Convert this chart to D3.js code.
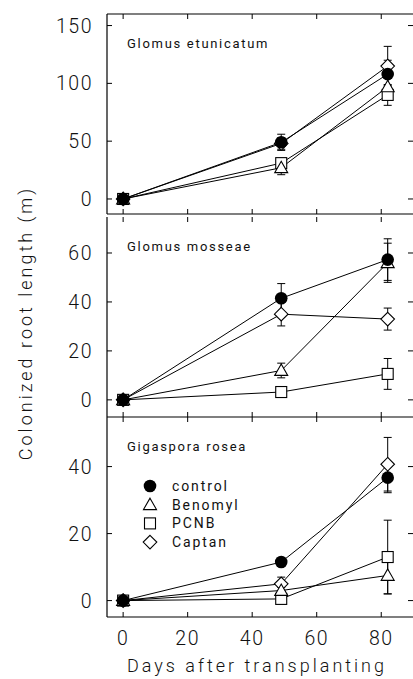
<!DOCTYPE html>
<html>
<head>
<meta charset="utf-8">
<script src="https://cdn.jsdelivr.net/npm/d3@7"></script>
<style>
  body { margin: 0; background: #fff; }
  svg { display: block; font-family: Roboto, "DejaVu Sans", sans-serif; }
  .tick-label { font-size: 19.5px; font-weight: 300; fill: #111; letter-spacing: 1.5px; }
  .panel-title { font-size: 13px; fill: #111; letter-spacing: 1.7px; }
  .legend-label { font-size: 14px; fill: #111; letter-spacing: 1.9px; }
  .axis-title { font-size: 18px; font-weight: 300; fill: #111; letter-spacing: 3px; }
</style>
</head>
<body>
<svg id="chart" width="413" height="679"></svg>
<script>
// Colonized root length after fungicide treatment -- three fungi

var days = [0, 49, 82];
var treatments = ["control", "Benomyl", "PCNB", "Captan"];
var dayTicks = [0, 20, 40, 60, 80];

// Glomus etunicatum
var etunicatumControl = [0, 49, 108];
var etunicatumBenomyl = [0, 27, 97];
var etunicatumPCNB = [0, 31, 90];
var etunicatumCaptan = [0, 48, 115];
var etunicatumControlErr = [0, 7, 12];
var etunicatumBenomylErr = [0, 6, 8];
var etunicatumPCNBErr = [0, 4, 9];
var etunicatumCaptanErr = [0, 5, 17];
var etunicatumTicks = [0, 50, 100, 150];

// Glomus mosseae
var mosseaeControl = [0, 41.5, 57.3];
var mosseaeBenomyl = [0, 12, 56];
var mosseaePCNB = [0, 3.2, 10.6];
var mosseaeCaptan = [0, 35, 33];
var mosseaeControlErr = [0, 6, 8.5];
var mosseaeBenomylErr = [0, 3, 8];
var mosseaePCNBErr = [0, 0.8, 6.3];
var mosseaeCaptanErr = [0, 4.8, 4.5];
var mosseaeTicks = [0, 20, 40, 60];

// Gigaspora rosea
var roseaControl = [0, 11.5, 36.7];
var roseaBenomyl = [0, 3, 7.5];
var roseaPCNB = [0, 0.5, 13];
var roseaCaptan = [0, 5, 40.7];
var roseaControlErr = [0, 1, 4.5];
var roseaBenomylErr = [0, 1, 5.5];
var roseaPCNBErr = [0, 1, 11];
var roseaCaptanErr = [0, 2, 8];
var roseaTicks = [0, 20, 40];

var panels = [
  { title: "Glomus etunicatum", domain: [-13, 160], ticks: etunicatumTicks,
    values: [etunicatumControl, etunicatumBenomyl, etunicatumPCNB, etunicatumCaptan],
    errors: [etunicatumControlErr, etunicatumBenomylErr, etunicatumPCNBErr, etunicatumCaptanErr] },
  { title: "Glomus mosseae", domain: [-7, 74.7], ticks: mosseaeTicks,
    values: [mosseaeControl, mosseaeBenomyl, mosseaePCNB, mosseaeCaptan],
    errors: [mosseaeControlErr, mosseaeBenomylErr, mosseaePCNBErr, mosseaeCaptanErr] },
  { title: "Gigaspora rosea", domain: [-4.9, 54.8], ticks: roseaTicks,
    values: [roseaControl, roseaBenomyl, roseaPCNB, roseaCaptan],
    errors: [roseaControlErr, roseaBenomylErr, roseaPCNBErr, roseaCaptanErr] }
];

var svg = d3.select("#chart");
var left = 107, right = 414;
var panelTops = [14, 217, 417];
var panelHeight = 200;
var tickLen = 5;

var x = d3.scaleLinear().domain([-5, 90]).range([107, 413.5]);

///////////////////////////////////////////////////////////////////////////////
// Markers

var drawMarker = function (g, kind, cx, cy) {
  if (kind === "control") {
    g.append("circle").attr("cx", cx).attr("cy", cy).attr("r", 6.3)
      .attr("fill", "#000");
  } else if (kind === "Benomyl") {
    var s = 6.5;
    g.append("path")
      .attr("d", "M" + cx + "," + (cy - s) + "L" + (cx + s) + "," + (cy + s * 0.75) +
                 "L" + (cx - s) + "," + (cy + s * 0.75) + "Z")
      .attr("fill", "#fff").attr("stroke", "#000").attr("stroke-width", 1.1);
  } else if (kind === "PCNB") {
    g.append("rect").attr("x", cx - 5.5).attr("y", cy - 5.5)
      .attr("width", 11).attr("height", 11)
      .attr("fill", "#fff").attr("stroke", "#000").attr("stroke-width", 1.1);
  } else {
    var d = 6.8;
    g.append("path")
      .attr("d", "M" + cx + "," + (cy - d) + "L" + (cx + d) + "," + cy +
                 "L" + cx + "," + (cy + d) + "L" + (cx - d) + "," + cy + "Z")
      .attr("fill", "#fff").attr("stroke", "#000").attr("stroke-width", 1.1);
  }
};

///////////////////////////////////////////////////////////////////////////////
// Panels

panels.forEach(function (panel, p) {
  var top = panelTops[p], bottom = top + panelHeight;
  var y = d3.scaleLinear().domain(panel.domain).range([bottom, top]);
  var g = svg.append("g");

  // frame
  g.append("line").attr("x1", left).attr("x2", left).attr("y1", top).attr("y2", bottom)
    .attr("stroke", "#000").attr("stroke-width", 1.2);
  g.append("line").attr("x1", left).attr("x2", right).attr("y1", bottom).attr("y2", bottom)
    .attr("stroke", "#000").attr("stroke-width", 1.2);
  if (p === 0)
    g.append("line").attr("x1", left).attr("x2", right).attr("y1", top).attr("y2", top)
      .attr("stroke", "#000").attr("stroke-width", 1.2);

  // y ticks, inward on both sides
  panel.ticks.forEach(function (t) {
    g.append("line").attr("x1", left).attr("x2", left + tickLen)
      .attr("y1", y(t)).attr("y2", y(t)).attr("stroke", "#000");
    g.append("line").attr("x1", 413 - tickLen).attr("x2", 413)
      .attr("y1", y(t)).attr("y2", y(t)).attr("stroke", "#000");
    g.append("text").attr("class", "tick-label")
      .attr("x", 93).attr("y", y(t)).attr("dy", "0.36em")
      .attr("text-anchor", "end").text(t);
  });

  // x ticks, inward at top and bottom
  dayTicks.forEach(function (t) {
    g.append("line").attr("x1", x(t)).attr("x2", x(t))
      .attr("y1", top).attr("y2", top + tickLen).attr("stroke", "#000");
    g.append("line").attr("x1", x(t)).attr("x2", x(t))
      .attr("y1", bottom - tickLen).attr("y2", bottom).attr("stroke", "#000");
  });

  g.append("text").attr("class", "panel-title")
    .attr("x", 127).attr("y", top + 34).text(panel.title);

  var line = d3.line()
    .x(function (d, i) { return x(days[i]); })
    .y(function (d) { return y(d); });

  // lines
  panel.values.forEach(function (vals) {
    g.append("path").datum(vals).attr("d", line)
      .attr("fill", "none").attr("stroke", "#000").attr("stroke-width", 1);
  });

  // error bars
  panel.values.forEach(function (vals, s) {
    vals.forEach(function (v, i) {
      var e = panel.errors[s][i];
      if (!e) return;
      var cx = x(days[i]);
      g.append("line").attr("x1", cx).attr("x2", cx)
        .attr("y1", y(v - e)).attr("y2", y(v + e)).attr("stroke", "#000");
      [v - e, v + e].forEach(function (w) {
        g.append("line").attr("x1", cx - 4).attr("x2", cx + 4)
          .attr("y1", y(w)).attr("y2", y(w)).attr("stroke", "#000");
      });
    });
  });

  // markers, open ones first so the filled control dot sits on top
  [3, 2, 1, 0].forEach(function (s) {
    panel.values[s].forEach(function (v, i) {
      drawMarker(g, treatments[s], x(days[i]), y(v));
    });
  });

  // x tick labels under the last panel
  if (p === panels.length - 1) {
    dayTicks.forEach(function (t) {
      g.append("text").attr("class", "tick-label")
        .attr("x", x(t)).attr("y", bottom + 28)
        .attr("text-anchor", "middle").text(t);
    });
  }
});

///////////////////////////////////////////////////////////////////////////////
// Legend (inside Gigaspora rosea panel)

var legend = svg.append("g");
treatments.forEach(function (name, i) {
  var ly = 486 + i * 18.7;
  drawMarker(legend, name, 150, ly);
  legend.append("text").attr("class", "legend-label")
    .attr("x", 172).attr("y", ly).attr("dy", "0.36em").text(name);
});

///////////////////////////////////////////////////////////////////////////////
// Axis titles

svg.append("text").attr("class", "axis-title")
  .attr("x", 257).attr("y", 672).attr("text-anchor", "middle")
  .text("Days after transplanting");

svg.append("text").attr("class", "axis-title")
  .attr("transform", "translate(32,323) rotate(-90)")
  .attr("text-anchor", "middle")
  .text("Colonized root length (m)");
</script>
</body>
</html>
